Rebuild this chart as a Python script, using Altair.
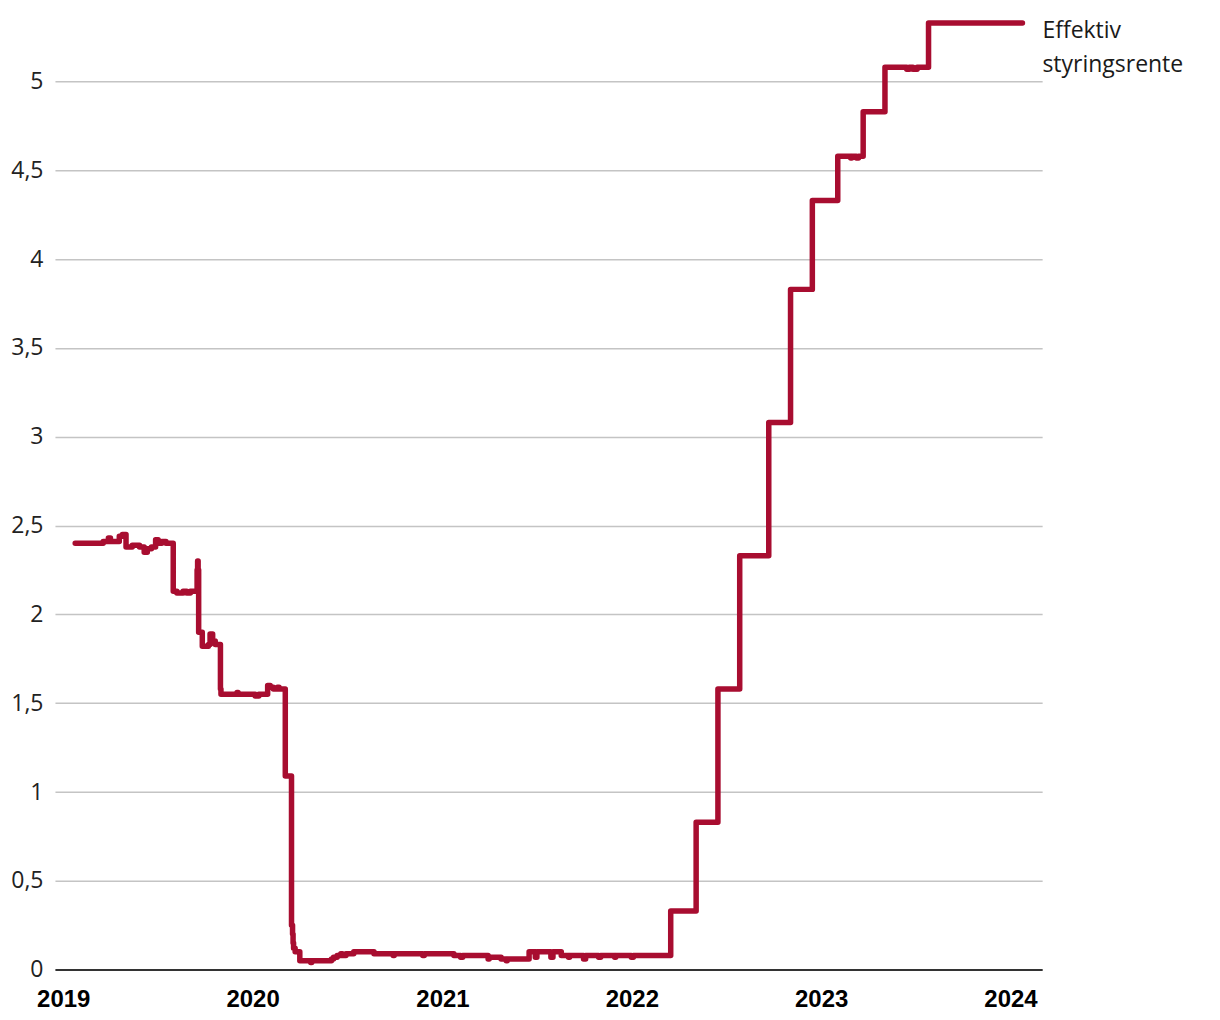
import altair as alt
import pandas as pd

# Change points of the effective policy rate (step series)
dates = [
    "2019-01-24", "2019-03-19", "2019-03-29", "2019-04-02", "2019-04-19", "2019-04-25",
    "2019-05-02", "2019-05-14", "2019-05-28", "2019-06-06", "2019-06-12", "2019-06-20",
    "2019-06-28", "2019-07-03", "2019-07-10", "2019-07-18", "2019-08-01", "2019-08-08",
    "2019-08-20", "2019-08-27", "2019-09-03", "2019-09-16", "2019-09-17", "2019-09-18",
    "2019-09-19", "2019-09-26", "2019-10-08", "2019-10-11", "2019-10-16", "2019-10-21",
    "2019-10-31", "2019-11-01", "2019-12-02", "2019-12-04", "2020-01-06", "2020-01-13",
    "2020-01-30", "2020-02-04", "2020-02-10", "2020-02-18", "2020-02-21", "2020-03-04",
    "2020-03-16", "2020-03-18", "2020-03-19", "2020-03-20", "2020-03-23", "2020-04-01",
    "2020-04-22", "2020-04-24", "2020-06-01", "2020-06-05", "2020-06-12", "2020-06-19",
    "2020-06-22", "2020-06-29", "2020-07-14", "2020-08-22", "2020-09-28", "2020-09-30",
    "2020-11-24", "2020-11-27", "2021-01-23", "2021-02-05", "2021-02-09", "2021-03-30",
    "2021-04-01", "2021-04-24", "2021-05-04", "2021-05-06", "2021-06-17", "2021-06-29",
    "2021-07-02", "2021-07-29", "2021-08-02", "2021-08-18", "2021-09-01", "2021-09-03",
    "2021-09-30", "2021-10-04", "2021-10-29", "2021-11-02", "2021-11-29", "2021-12-01",
    "2021-12-31", "2022-01-04", "2022-03-17", "2022-05-05", "2022-06-16", "2022-07-28",
    "2022-09-22", "2022-11-03", "2022-12-15", "2023-02-02", "2023-02-27", "2023-03-01",
    "2023-03-10", "2023-03-14", "2023-03-23", "2023-05-04", "2023-06-15", "2023-06-20",
    "2023-06-27", "2023-07-05", "2023-07-27", "2024-01-24",
]
rates = [
    2.40, 2.41, 2.43, 2.41, 2.44, 2.45,
    2.38, 2.39, 2.38, 2.35, 2.37, 2.38,
    2.42, 2.40, 2.41, 2.40, 2.13, 2.12,
    2.13, 2.12, 2.13, 2.25, 2.30, 2.25,
    1.90, 1.82, 1.83, 1.89, 1.85, 1.83,
    1.58, 1.55, 1.56, 1.55, 1.54, 1.55,
    1.60, 1.59, 1.58, 1.59, 1.58, 1.09,
    0.25, 0.20, 0.15, 0.12, 0.10, 0.05,
    0.04, 0.05, 0.06, 0.07, 0.08, 0.09,
    0.08, 0.09, 0.10, 0.09, 0.08, 0.09,
    0.08, 0.09, 0.08, 0.07, 0.08, 0.06,
    0.07, 0.06, 0.05, 0.06, 0.10, 0.07,
    0.10, 0.07, 0.10, 0.08, 0.07, 0.08,
    0.06, 0.08, 0.07, 0.08, 0.07, 0.08,
    0.07, 0.08, 0.33, 0.83, 1.58, 2.33,
    3.08, 3.83, 4.33, 4.58, 4.57, 4.58,
    4.57, 4.58, 4.83, 5.08, 5.07, 5.08,
    5.07, 5.08, 5.33, 5.33,
]
series_label = "Effektiv\nstyringsrente"
y_ticks = [0, 0.5, 1, 1.5, 2, 2.5, 3, 3.5, 4, 4.5, 5]
x_years = [2019, 2020, 2021, 2022, 2023, 2024]

df = pd.DataFrame({"date": dates, "rate": rates})
label_df = pd.DataFrame({"date": [dates[-1]], "rate": [rates[-1]], "label": [series_label]})

line_color = "#a80d30"

x_scale = alt.Scale(
    type="utc",
    domain=[
        alt.DateTime(year=2018, month=12, date=16, utc=True),
        alt.DateTime(year=2024, month=3, date=2, utc=True),
    ],
)
y_scale = alt.Scale(domain=[0, 5.35], nice=False, zero=True)

x_enc = alt.X(
    "date:T",
    scale=x_scale,
    axis=alt.Axis(
        title=None,
        values=[alt.DateTime(year=y, month=1, date=1, utc=True) for y in x_years],
        format="%Y",
        grid=False,
        ticks=False,
        domainColor="#333333",
        domainWidth=2,
        labelFont="Liberation Sans",
        labelFontWeight="bold",
        labelFontSize=24,
        labelColor="#000000",
        labelPadding=18,
        labelFlush=False,
        labelOverlap=False,
    ),
)
y_enc = alt.Y(
    "rate:Q",
    scale=y_scale,
    axis=alt.Axis(
        title=None,
        values=y_ticks,
        labelExpr="replace(format(datum.value, '~g'), '.', ',')",
        grid=True,
        gridColor="#c4c4c4",
        gridWidth=1.5,
        domain=False,
        ticks=False,
        labelFont="Open Sans",
        labelFontSize=23,
        labelColor="#222222",
        labelPadding=12,
    ),
)

line = alt.Chart(df).mark_line(
    interpolate="step-after",
    strokeWidth=5.5,
    color=line_color,
    strokeCap="round",
    strokeJoin="round",
).encode(x=x_enc, y=y_enc)

text = alt.Chart(label_df).mark_text(
    align="left",
    baseline="alphabetic",
    dx=20,
    dy=15,
    font="Open Sans",
    fontSize=23,
    lineHeight=34,
    lineBreak="\n",
    color="#1a1a1a",
).encode(
    x=alt.X("date:T", scale=x_scale),
    y=alt.Y("rate:Q", scale=y_scale),
    text="label:N",
)

chart = (
    alt.layer(line, text)
    .properties(
        width=988,
        height=951,
        autosize=alt.AutoSizeParams(type="none"),
        padding={"left": 47, "top": 11, "right": 170, "bottom": 49},
    )
    .configure_view(stroke=None)
)

chart.save("out.html", embed_options={"renderer": "svg", "actions": False})
